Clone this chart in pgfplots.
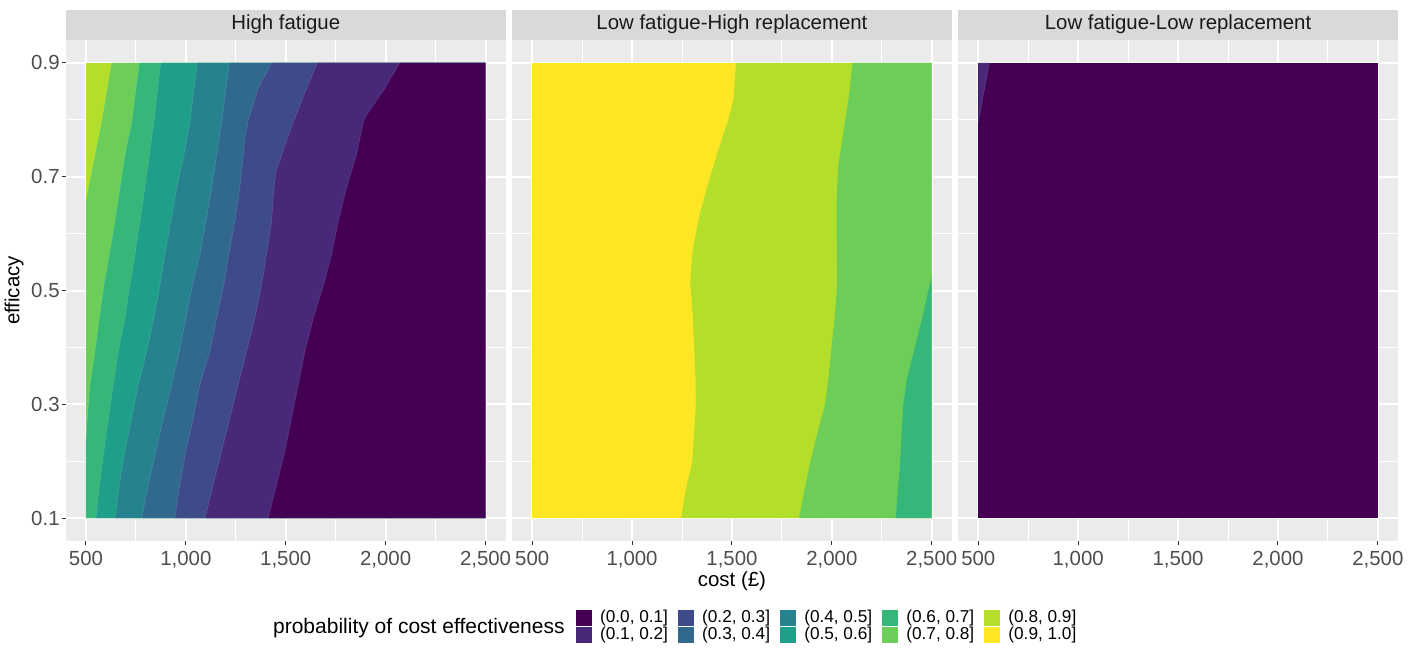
\documentclass[border=0pt]{standalone}
\usepackage{pgfplots}
\pgfplotsset{compat=1.18}
\usepackage{fontspec}
\setmainfont{Liberation Sans}
\definecolor{v1}{HTML}{440154}
\definecolor{v2}{HTML}{482878}
\definecolor{v3}{HTML}{3E4A89}
\definecolor{v4}{HTML}{31688E}
\definecolor{v5}{HTML}{26828E}
\definecolor{v6}{HTML}{1F9E89}
\definecolor{v7}{HTML}{35B779}
\definecolor{v8}{HTML}{6DCD59}
\definecolor{v9}{HTML}{B4DE2C}
\definecolor{v10}{HTML}{FDE725}
\definecolor{panelbg}{HTML}{EBEBEB}
\definecolor{stripbg}{HTML}{D9D9D9}
\definecolor{gray30}{HTML}{4D4D4D}
\definecolor{gray20}{HTML}{333333}
\definecolor{gray10}{HTML}{1A1A1A}
\newcommand{\bigfont}{\fontsize{10.2}{12}\selectfont}
\pgfplotsset{
  facet/.style={
    scale only axis, width=219.75pt, height=250.5pt,
    anchor=north west,
    xmin=400, xmax=2600, ymin=0.06, ymax=0.94,
    axis background/.style={fill=panelbg},
    axis line style={draw=none},
    xtick={500,1000,1500,2000,2500},
    xticklabels={500,{1,000},{1,500},{2,000},{2,500}},
    ytick={0.1,0.3,0.5,0.7,0.9},
    minor xtick={750,1250,1750,2250},
    minor ytick={0.2,0.4,0.6,0.8},
    grid=both,
    major grid style={white, line width=1pt},
    minor grid style={white, line width=0.5pt},
    tick align=outside,
    major tick length=2pt, minor tick length=0pt,
    tick style={gray20, line width=0.5pt},
    xtick pos=left, ytick pos=left,
    tick label style={font=\bigfont, text=gray30, inner sep=0pt},
    xticklabel style={yshift=-2.8pt},
    yticklabel style={xshift=-1pt},
    every axis title shift=0pt,
    title style={at={(0.5,1)}, anchor=south, fill=stripbg, minimum width=219.75pt,
      minimum height=15pt, inner sep=0pt, text=gray10, font=\bigfont},
  },
  region/.style={fill=#1, draw=white, draw opacity=0.15, line width=0.3pt, forget plot},
}
\begin{document}
\begin{tikzpicture}
\useasboundingbox (0,0) rectangle (708.5pt,-325pt);
% ---------------- Panel 1 ----------------
\begin{axis}[facet, at={(33pt,-20pt)}, title={High fatigue},
  yticklabels={0.1,0.3,0.5,0.7,0.9},
  ylabel={efficacy}, ylabel style={at={(axis description cs:-0.1183,0.5)}, anchor=center, font=\bigfont, text=black}]
\addplot[region=v9, draw=none] coordinates {(500,0.1) (2500,0.1) (2500,0.9) (500,0.9)};
\addplot[region=v8] coordinates {(628,0.9) (578,0.796) (500,0.66) (500,0.1) (2500,0.1) (2500,0.9)};
\addplot[region=v7] coordinates {(767,0.9) (729,0.796) (695,0.738) (670,0.68) (645,0.621) (617,0.563) (590,0.51) (567,0.452) (545,0.393) (520,0.335) (507,0.276) (500,0.235) (500,0.1) (2500,0.1) (2500,0.9)};
\addplot[region=v6] coordinates {(874,0.9) (840,0.796) (817,0.738) (795,0.68) (770,0.621) (745,0.563) (720,0.51) (695,0.452) (662,0.393) (637,0.335) (612,0.276) (590,0.218) (567,0.159) (550,0.1) (2500,0.1) (2500,0.9)};
\addplot[region=v5] coordinates {(1057,0.9) (1020,0.796) (990,0.738) (954,0.68) (924,0.621) (895,0.563) (870,0.51) (840,0.452) (804,0.393) (762,0.335) (729,0.276) (695,0.218) (667,0.159) (645,0.1) (2500,0.1) (2500,0.9)};
\addplot[region=v4] coordinates {(1217,0.9) (1179,0.796) (1154,0.738) (1129,0.68) (1100,0.621) (1070,0.563) (1033,0.51) (1000,0.452) (967,0.393) (929,0.335) (887,0.276) (850,0.218) (812,0.159) (779,0.1) (2500,0.1) (2500,0.9)};
\addplot[region=v3] coordinates {(1429,0.9) (1362,0.855) (1310,0.796) (1296,0.767) (1270,0.68) (1245,0.621) (1215,0.563) (1190,0.51) (1154,0.452) (1121,0.393) (1070,0.335) (1037,0.276) (1000,0.218) (970,0.159) (945,0.1) (2500,0.1) (2500,0.9)};
\addplot[region=v2] coordinates {(1658,0.9) (1604,0.855) (1538,0.796) (1479,0.738) (1451,0.709) (1441,0.68) (1429,0.621) (1404,0.563) (1379,0.51) (1346,0.452) (1304,0.393) (1262,0.335) (1221,0.276) (1179,0.218) (1137,0.159) (1096,0.1) (2500,0.1) (2500,0.9)};
\addplot[region=v1] coordinates {(2071,0.9) (1996,0.855) (1904,0.808) (1888,0.796) (1854,0.738) (1804,0.68) (1763,0.621) (1729,0.563) (1690,0.51) (1638,0.452) (1596,0.393) (1563,0.335) (1529,0.276) (1496,0.218) (1454,0.159) (1412,0.1) (2500,0.1) (2500,0.9)};
\end{axis}
% ---------------- Panel 2 ----------------
\begin{axis}[facet, at={(256.1pt,-20pt)}, title={Low fatigue-High replacement},
  clip=false,
  yticklabels={}, ytick style={draw=none},
  xlabel={cost (£)}, xlabel style={at={(axis description cs:0.5,-0.0795)}, anchor=center, font=\bigfont, text=black},
  legend columns=5,
  legend image code/.code={\fill[#1, draw=none] (0pt,-4pt) rectangle (8pt,4pt);},
  legend cell align=left,
  legend style={at={(axis description cs:0.1445,-0.1377)}, anchor=north west,
    draw=none, fill=none, inner sep=0pt, outer sep=0pt, row sep=0.5pt,
    font=\fontsize{8.6}{10}\selectfont, text=black, nodes={inner sep=0pt},
    /tikz/every odd column/.append style={column sep=4.2pt},
    /tikz/every even column/.append style={column sep=4.9pt}},
]
\addplot[region=v10, draw=none] coordinates {(500,0.1) (2500,0.1) (2500,0.9) (500,0.9)};
\addplot[region=v9, draw=none] coordinates {(1520,0.9) (1507,0.835) (1482,0.80) (1432,0.747) (1381,0.688) (1336,0.63) (1303,0.571) (1291,0.515) (1303,0.46) (1311,0.402) (1318,0.343) (1320,0.3) (1311,0.256) (1301,0.197) (1273,0.157) (1245,0.1) (2500,0.1) (2500,0.9)};
\addplot[region=v8, draw=none] coordinates {(2104,0.9) (2083,0.835) (2057,0.777) (2032,0.718) (2024,0.659) (2024,0.601) (2027,0.515) (2016,0.46) (1999,0.402) (1982,0.343) (1966,0.3) (1932,0.256) (1891,0.197) (1857,0.139) (1836,0.1) (2500,0.1) (2500,0.9)};
\addplot[region=v7, draw=none] coordinates {(2500,0.525) (2480,0.495) (2458,0.46) (2417,0.402) (2375,0.343) (2358,0.3) (2350,0.256) (2342,0.197) (2328,0.139) (2320,0.1) (2500,0.1)};
\addlegendimage{fill=v1}\addlegendentry{(0.0, 0.1]}
\addlegendimage{fill=v3}\addlegendentry{(0.2, 0.3]}
\addlegendimage{fill=v5}\addlegendentry{(0.4, 0.5]}
\addlegendimage{fill=v7}\addlegendentry{(0.6, 0.7]}
\addlegendimage{fill=v9}\addlegendentry{(0.8, 0.9]}
\addlegendimage{fill=v2}\addlegendentry{(0.1, 0.2]}
\addlegendimage{fill=v4}\addlegendentry{(0.3, 0.4]}
\addlegendimage{fill=v6}\addlegendentry{(0.5, 0.6]}
\addlegendimage{fill=v8}\addlegendentry{(0.7, 0.8]}
\addlegendimage{fill=v10}\addlegendentry{(0.9, 1.0]}
\node[anchor=east, font=\fontsize{10.5}{12}\selectfont, text=black, inner sep=0pt] at (axis description cs:0.1201,-0.1737) {probability of cost effectiveness};
\end{axis}
% ---------------- Panel 3 ----------------
\begin{axis}[facet, at={(479.15pt,-20pt)}, title={Low fatigue-Low replacement},
  yticklabels={}, ytick style={draw=none}]
\addplot[region=v1, draw=none] coordinates {(500,0.1) (2500,0.1) (2500,0.9) (500,0.9)};
\addplot[region=v2] coordinates {(500,0.9) (555,0.9) (500,0.796)};
\end{axis}
\end{tikzpicture}
\end{document}
